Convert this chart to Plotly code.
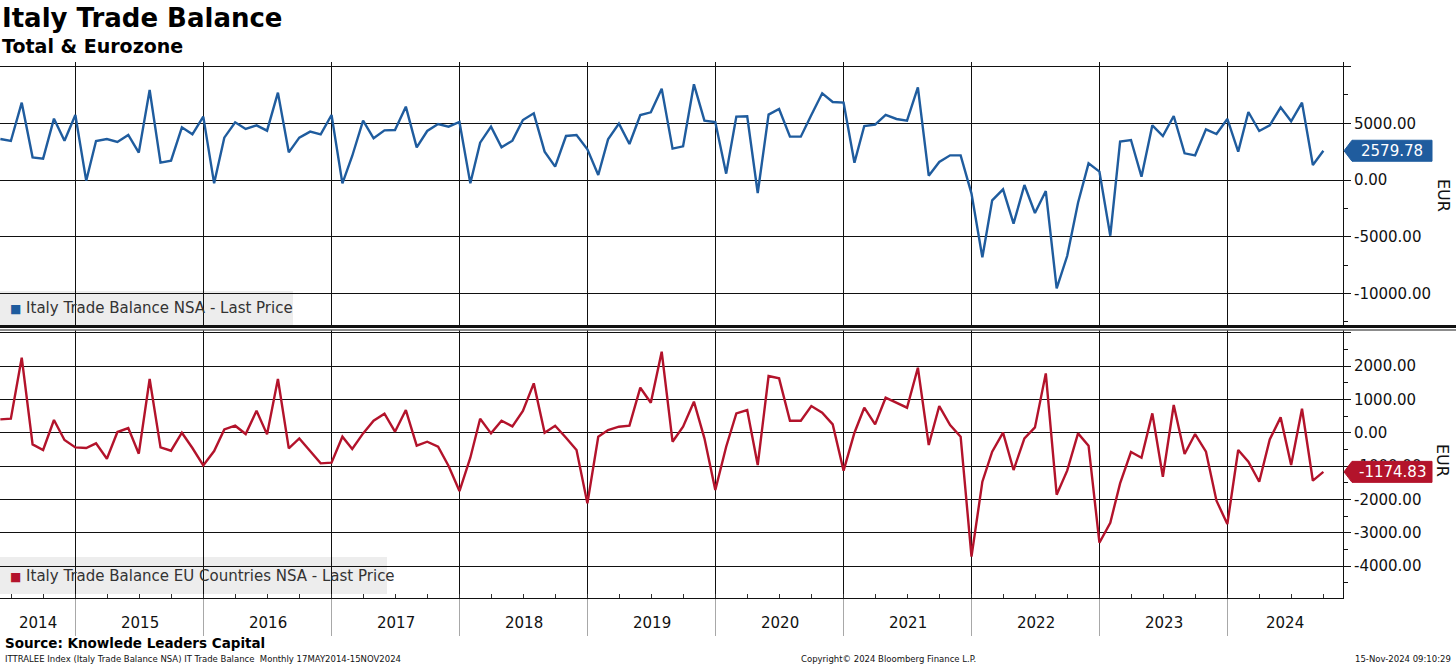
import pandas as pd
import plotly.graph_objects as go

# ---------------- data (monthly, May 2014 .. Sep 2024) ----------------
start_month = "2014-05"
total_balance = [
    3617, 3441, 6823, 2000, 1882, 5411, 3470, 5735, -59, 3441, 3617, 3353, 3970, 2412, 7941, 1529,
    1706, 4647, 4029, 5588, -294, 3735, 5088, 4500, 4823, 4353,
    7706, 2441, 3735, 4265, 4029, 5735, -294, 2118, 5235, 3676, 4382, 4412, 6470, 2882, 4323, 4941,
    4706, 5117, -294, 3294, 4706, 2882, 3470, 5294, 5882,
    2500, 1176, 3882, 3970, 2706, 441, 3588, 4970, 3176, 5735, 5970, 8059, 2765, 2970, 8441, 5235,
    5117, 559, 5588, 5617, -1147, 5765, 6265, 3823, 3823,
    5735, 7647, 6882, 6823, 1529, 4765, 4882, 5735, 5382, 5235, 8176, 382, 1588, 2176, 2176, -1200,
    -6823, -1794, -824, -3853, -441, -2912, -971, -9559, -6706, -2000,
    1470, 735, -4912, 3382, 3529, 294, 4823, 3882, 5647, 2353, 2176, 4470, 4059, 5382, 2500, 6000,
    4323, 4823, 6411, 5176, 6823, 1323, 2579.78,
]
eu_balance = [
    400, 420, 2250, -350, -520, 380, -220, -440, -460, -320, -780, 20, 140, -630, 1610, -440,
    -540, 0, -460, -980, -550, 100, 210, -40, 660, -50,
    1610, -470, -170, -540, -920, -900, -120, -490, -20, 360, 570, 30, 680, -390, -270, -420,
    -1000, -1750, -750, 420, -20, 360, 190, 650, 1480,
    0, 210, -150, -520, -2120, -120, 80, 180, 210, 1350, 900, 2430, -270, 180, 930, -170,
    -1720, -420, 580, 680, -970, 1700, 1630, 360, 360,
    800, 600, 250, -1140, 0, 750, 250, 1050, 900, 750, 1950, -370, 800, 230, -120, -3720,
    -1470, -570, 0, -1120, -170, 160, 1780, -1860, -1140, -20,
    -390, -3300, -2700, -1520, -580, -750, 580, -1320, 830, -640, -40, -570, -2040, -2740, -520, -870,
    -1470, -200, 460, -970, 720, -1440, -1174.83,
]
years = list(range(2014, 2025))
x_range = ["2014-05-30", "2024-11-25"]
top_tickvals = [-10000, -5000, 0, 5000, 10000]
top_ticktext = ["-10000.00", "-5000.00", "0.00", "5000.00", ""]
bot_tickvals = [-4000, -3000, -2000, -1000, 0, 1000, 2000, 3000]
bot_ticktext = ["-4000.00", "-3000.00", "-2000.00", "-1000.00", "0.00", "1000.00", "2000.00", ""]
top_range = [-12789, 10408]
bot_range = [-4959, 3081]

series_names = ["Italy Trade Balance NSA - Last Price",
                "Italy Trade Balance EU Countries NSA - Last Price"]
BLUE = "#1f5c9e"
RED = "#b3132b"
FONT = "DejaVu Sans"

dates = pd.date_range(start=start_month + "-01", periods=len(total_balance), freq="ME")

# ---------------- geometry helpers (pixel -> paper) ----------------
W, H = 1456, 666
L, R, T, B = 0, 113, 62, 68
PW, PH = W - L - R, H - T - B


def pyp(px):
    return (H - B - px) / PH


def pxp(px):
    return (px - L) / PW


fig = go.Figure()
fig.add_trace(go.Scatter(x=dates, y=total_balance, mode="lines", line=dict(color=BLUE, width=2.4),
                         xaxis="x", yaxis="y", name=series_names[0], showlegend=False))
fig.add_trace(go.Scatter(x=dates, y=eu_balance, mode="lines", line=dict(color=RED, width=2.4),
                         xaxis="x2", yaxis="y2", name=series_names[1], showlegend=False))

year_starts = [f"{y}-01-01" for y in years[1:]]

common_x = dict(range=x_range, type="date", tickmode="array", tickvals=year_starts,
                showticklabels=False, showgrid=True, gridcolor="#111111", gridwidth=1,
                zeroline=False)
top_dom = [pyp(325), 1.0]
bot_dom = [0.0, pyp(330)]

fig.update_layout(
    width=W, height=H,
    margin=dict(l=L, r=R, t=T, b=B),
    paper_bgcolor="white", plot_bgcolor="white",
    font=dict(family=FONT, size=15, color="#111111"),
    xaxis=dict(**common_x, anchor="y", domain=[0, 1], ticks=""),
    xaxis2=dict(**common_x, anchor="y2", domain=[0, 1], matches="x",
                ticks="outside", ticklen=37, tickcolor="#a8a8a8", tickwidth=1,
                showline=True, linecolor="#111111", linewidth=1,
                minor=dict(tickmode="linear", tick0="2014-01-01", dtick="M3",
                           ticks="inside", ticklen=4, tickcolor="#333333", showgrid=False)),
    yaxis=dict(domain=top_dom, range=top_range, side="right", anchor="x",
               tickmode="array", tickvals=top_tickvals, ticktext=top_ticktext,
               ticks="outside", ticklen=7, tickcolor="#111111", showline=True,
               linecolor="#111111", linewidth=1, showgrid=True, gridcolor="#111111",
               gridwidth=1, zeroline=False, tickfont=dict(size=15, color="#111111"),
               minor=dict(tickmode="linear", tick0=0, dtick=2500, ticks="outside",
                          ticklen=4, tickcolor="#111111", showgrid=False)),
    yaxis2=dict(domain=bot_dom, range=bot_range, side="right", anchor="x2",
                tickmode="array", tickvals=bot_tickvals, ticktext=bot_ticktext,
                ticks="outside", ticklen=7, tickcolor="#111111", showline=True,
                linecolor="#111111", linewidth=1, showgrid=True, gridcolor="#111111",
                gridwidth=1, zeroline=False, tickfont=dict(size=15, color="#111111"),
                minor=dict(tickmode="linear", tick0=0, dtick=500, ticks="outside",
                           ticklen=4, tickcolor="#111111", showgrid=False)),
)

shapes = []
annotations = []

# separator between panels
shapes.append(dict(type="line", xref="paper", yref="paper", x0=0, x1=pxp(W), y0=pyp(326.5), y1=pyp(326.5),
                   line=dict(color="#111111", width=3)))
shapes.append(dict(type="line", xref="paper", yref="paper", x0=0, x1=pxp(W), y0=pyp(330), y1=pyp(330),
                   line=dict(color="#666666", width=1.5)))

# legend boxes
legend_boxes = [(293, 291, 325, BLUE, series_names[0]), (387, 557, 594, RED, series_names[1])]
for (bw, by0, by1, col, name) in legend_boxes:
    shapes.append(dict(type="rect", xref="paper", yref="paper", x0=0, x1=pxp(bw),
                       y0=pyp(by1), y1=pyp(by0), fillcolor="#ededed", line=dict(width=0),
                       layer="below"))
    annotations.append(dict(xref="paper", yref="paper", x=pxp(8), y=pyp((by0 + by1) / 2),
                            xanchor="left", yanchor="middle", showarrow=False,
                            text=f"<span style='color:{col};font-size:12px'>■</span> {name}",
                            font=dict(family=FONT, size=15, color="#333333")))

# last value flags
flag_specs = [(total_balance[-1], "y", (top_range[1] - top_range[0]) / (325 - 62), BLUE),
              (eu_balance[-1], "y2", (bot_range[1] - bot_range[0]) / (598 - 330), RED)]
for (val, yref, per_px, col) in flag_specs:
    h = 10.5 * per_px
    xa, xb, xc = pxp(1344), pxp(1352), pxp(1432)
    path = (f"M {xa},{val} L {xb},{val + h} L {xc},{val + h} L {xc},{val - h} "
            f"L {xb},{val - h} Z")
    shapes.append(dict(type="path", xref="paper", yref=yref, path=path, fillcolor=col,
                       line=dict(color=col, width=1), layer="above"))
    annotations.append(dict(xref="paper", yref=yref, x=(xb + xc) / 2, y=val, xanchor="center",
                            yanchor="middle", showarrow=False, text=f"{val:.2f}",
                            font=dict(family=FONT, size=15, color="white")))

# EUR unit labels
for ypx in (195, 460):
    annotations.append(dict(xref="paper", yref="paper", x=pxp(1443), y=pyp(ypx), xanchor="center",
                            yanchor="middle", showarrow=False, text="EUR", textangle=90,
                            font=dict(family=FONT, size=16, color="#111111")))

# year labels centred in the visible part of each year
r0, r1 = pd.Timestamp(x_range[0]), pd.Timestamp(x_range[1])
for y in years:
    a = max(pd.Timestamp(f"{y}-01-01"), r0)
    b = min(pd.Timestamp(f"{y + 1}-01-01"), r1)
    mid = a + (b - a) / 2
    annotations.append(dict(xref="x2", yref="paper", x=mid.strftime("%Y-%m-%d %H:%M"), y=pyp(623),
                            xanchor="center", yanchor="middle", showarrow=False, text=str(y),
                            font=dict(family=FONT, size=15, color="#111111")))

# titles
annotations.append(dict(xref="paper", yref="paper", x=0, y=pyp(18), xanchor="left", yanchor="middle",
                        showarrow=False, text="<b>Italy Trade Balance</b>",
                        font=dict(family=FONT, size=26, color="black")))
annotations.append(dict(xref="paper", yref="paper", x=0, y=pyp(46), xanchor="left", yanchor="middle",
                        showarrow=False, text="<b>Total &amp; Eurozone</b>",
                        font=dict(family=FONT, size=19, color="black")))

# footer
annotations.append(dict(xref="paper", yref="paper", x=pxp(3), y=pyp(643), xanchor="left",
                        yanchor="middle", showarrow=False,
                        text="<b>Source: Knowlede Leaders Capital</b>",
                        font=dict(family=FONT, size=13.5, color="black")))
annotations.append(dict(xref="paper", yref="paper", x=pxp(3), y=pyp(659), xanchor="left",
                        yanchor="middle", showarrow=False,
                        text="ITTRALEE Index (Italy Trade Balance NSA) IT Trade Balance  Monthly 17MAY2014-15NOV2024",
                        font=dict(family=FONT, size=8.5, color="#111111")))
annotations.append(dict(xref="paper", yref="paper", x=pxp(888), y=pyp(659), xanchor="center",
                        yanchor="middle", showarrow=False,
                        text="Copyright© 2024 Bloomberg Finance L.P.",
                        font=dict(family=FONT, size=8.5, color="#111111")))
annotations.append(dict(xref="paper", yref="paper", x=pxp(1453), y=pyp(659), xanchor="right",
                        yanchor="middle", showarrow=False,
                        text="15-Nov-2024 09:10:29",
                        font=dict(family=FONT, size=8.5, color="#111111")))

fig.update_layout(shapes=shapes, annotations=annotations)

fig.write_html("out.html", config={"displayModeBar": False},
               post_script="document.body.style.margin='0';document.body.style.overflow='hidden';")
